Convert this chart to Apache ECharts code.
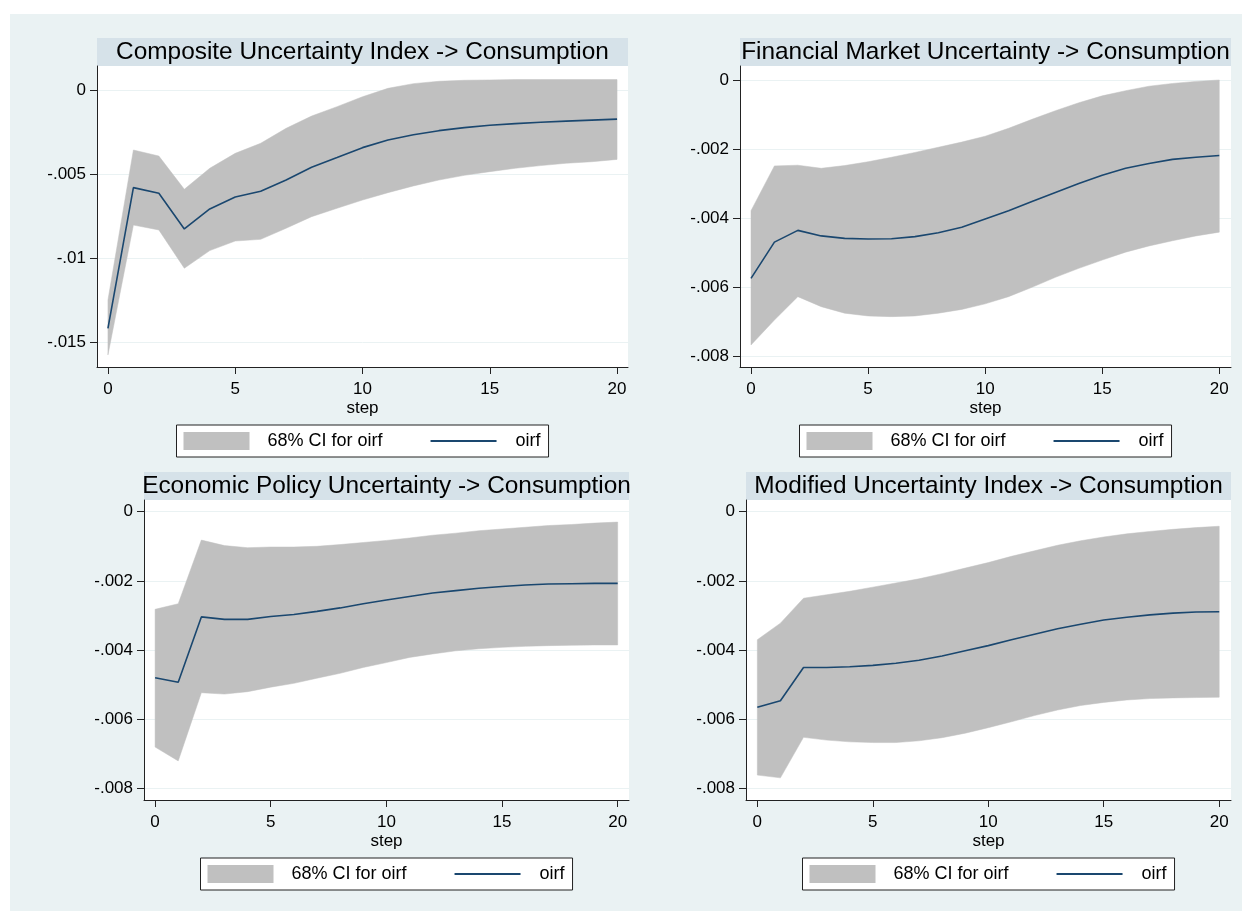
<!DOCTYPE html>
<html>
<head>
<meta charset="utf-8">
<script src="https://cdn.jsdelivr.net/npm/echarts@6/dist/echarts.min.js"></script>
<style>
  html, body { margin: 0; padding: 0; background: #ffffff; }
  #frame { position: absolute; left: 10px; top: 14px; width: 1232px; height: 897px; background: #eaf2f3; }
  #chart { position: absolute; left: 0; top: 0; width: 1242px; height: 911px; }
</style>
</head>
<body>
<div id="frame"></div>
<div id="chart"></div>
<script>
// Forecast horizon (steps) shared by all four impulse responses
const steps = [0, 1, 2, 3, 4, 5, 6, 7, 8, 9, 10, 11, 12, 13, 14, 15, 16, 17, 18, 19, 20];
const xTicks = [0, 5, 10, 15, 20];

// Composite Uncertainty Index -> Consumption
const compositeOirf  = [-0.01419, -0.00581, -0.00615, -0.00827, -0.00708, -0.00637, -0.00603, -0.00536, -0.00460, -0.00402, -0.00343, -0.00298, -0.00266, -0.00242, -0.00224, -0.00210, -0.00200, -0.00192, -0.00185, -0.00179, -0.00173];
const compositeUpper = [-0.01250, -0.00357, -0.00393, -0.00591, -0.00466, -0.00377, -0.00317, -0.00228, -0.00155, -0.00099, -0.00040, 0.00010, 0.00038, 0.00052, 0.00058, 0.00060, 0.00062, 0.00062, 0.00062, 0.00062, 0.00062];
const compositeLower = [-0.01577, -0.00804, -0.00833, -0.01061, -0.00956, -0.00899, -0.00889, -0.00823, -0.00754, -0.00704, -0.00655, -0.00611, -0.00571, -0.00536, -0.00508, -0.00486, -0.00466, -0.00450, -0.00436, -0.00427, -0.00413];
const compositeTicks = [0, -0.005, -0.01, -0.015];
const compositeTickLabels = ['0', '-.005', '-.01', '-.015'];

// Financial Market Uncertainty -> Consumption
const financialOirf  = [-0.00575, -0.00470, -0.00436, -0.00452, -0.00459, -0.00461, -0.00460, -0.00454, -0.00443, -0.00427, -0.00403, -0.00379, -0.00352, -0.00326, -0.00300, -0.00276, -0.00256, -0.00242, -0.00230, -0.00224, -0.00219];
const financialUpper = [-0.00379, -0.00249, -0.00247, -0.00256, -0.00248, -0.00237, -0.00224, -0.00210, -0.00195, -0.00180, -0.00163, -0.00140, -0.00114, -0.00089, -0.00066, -0.00046, -0.00031, -0.00018, -0.00010, -0.00004, 0.00000];
const financialLower = [-0.00768, -0.00696, -0.00628, -0.00657, -0.00676, -0.00684, -0.00686, -0.00684, -0.00676, -0.00665, -0.00649, -0.00628, -0.00601, -0.00572, -0.00546, -0.00522, -0.00499, -0.00481, -0.00466, -0.00452, -0.00441];

// Economic Policy Uncertainty -> Consumption
const policyOirf  = [-0.00480, -0.00493, -0.00304, -0.00311, -0.00311, -0.00303, -0.00297, -0.00288, -0.00278, -0.00266, -0.00255, -0.00245, -0.00235, -0.00228, -0.00221, -0.00216, -0.00212, -0.00209, -0.00208, -0.00207, -0.00207];
const policyUpper = [-0.00282, -0.00266, -0.00082, -0.00098, -0.00104, -0.00102, -0.00102, -0.00100, -0.00095, -0.00089, -0.00083, -0.00076, -0.00068, -0.00062, -0.00055, -0.00050, -0.00045, -0.00040, -0.00037, -0.00033, -0.00030];
const policyLower = [-0.00680, -0.00720, -0.00523, -0.00527, -0.00520, -0.00507, -0.00496, -0.00481, -0.00467, -0.00450, -0.00436, -0.00421, -0.00411, -0.00402, -0.00396, -0.00392, -0.00389, -0.00387, -0.00386, -0.00385, -0.00385];

// Modified Uncertainty Index -> Consumption
const modifiedOirf  = [-0.00565, -0.00546, -0.00450, -0.00450, -0.00448, -0.00444, -0.00438, -0.00429, -0.00417, -0.00402, -0.00387, -0.00370, -0.00354, -0.00338, -0.00325, -0.00313, -0.00305, -0.00298, -0.00293, -0.00290, -0.00289];
const modifiedUpper = [-0.00370, -0.00322, -0.00250, -0.00240, -0.00230, -0.00218, -0.00206, -0.00194, -0.00179, -0.00163, -0.00147, -0.00129, -0.00113, -0.00097, -0.00084, -0.00073, -0.00064, -0.00057, -0.00051, -0.00046, -0.00042];
const modifiedLower = [-0.00761, -0.00769, -0.00652, -0.00660, -0.00665, -0.00667, -0.00667, -0.00662, -0.00653, -0.00640, -0.00624, -0.00607, -0.00589, -0.00573, -0.00560, -0.00551, -0.00544, -0.00540, -0.00538, -0.00537, -0.00536];

// Small-scale y ticks used by the last three panels
const smallTicks = [0, -0.002, -0.004, -0.006, -0.008];
const smallTickLabels = ['0', '-.002', '-.004', '-.006', '-.008'];

const CI_NAME = '68% CI for oirf';
const LINE_NAME = 'oirf';
const FONT = "'Liberation Sans', Arial, Helvetica, sans-serif";
const NAVY = '#1a476f';
const BAND = '#c0c0c0';
const AXIS = '#222222';

const panels = [
  { title: 'Composite Uncertainty Index -> Consumption', oirf: compositeOirf, hi: compositeUpper, lo: compositeLower,
    ticks: compositeTicks, labels: compositeTickLabels,
    box: { left: 97, top: 66, width: 531, height: 301 }, yRange: [-0.01649, 0.00143], xRange: [-0.43, 20.43] },
  { title: 'Financial Market Uncertainty -> Consumption', oirf: financialOirf, hi: financialUpper, lo: financialLower,
    ticks: smallTicks, labels: smallTickLabels,
    box: { left: 740, top: 66, width: 491, height: 301 }, yRange: [-0.00832, 0.000406], xRange: [-0.47, 20.5] },
  { title: 'Economic Policy Uncertainty -> Consumption', oirf: policyOirf, hi: policyUpper, lo: policyLower,
    ticks: smallTicks, labels: smallTickLabels,
    box: { left: 144, top: 500, width: 485, height: 300 }, yRange: [-0.00833, 0.000338], xRange: [-0.48, 20.49] },
  { title: 'Modified Uncertainty Index -> Consumption', oirf: modifiedOirf, hi: modifiedUpper, lo: modifiedLower,
    ticks: smallTicks, labels: smallTickLabels,
    box: { left: 746, top: 500, width: 485, height: 300 }, yRange: [-0.00833, 0.000338], xRange: [-0.49, 20.51] }
];

// Shaded band between lower and upper bounds, drawn as one polygon in axis coordinates
function bandRenderer(p) {
  return function (params, api) {
    if (params.dataIndex !== 0) return null;
    const top = steps.map((s, k) => api.coord([s, p.hi[k]]));
    const bottom = steps.map((s, k) => api.coord([s, p.lo[k]])).reverse();
    return {
      type: 'polygon',
      shape: { points: top.concat(bottom) },
      style: { fill: BAND, stroke: BAND, lineWidth: 0.5 }
    };
  };
}

const grids = [], xAxes = [], yAxes = [], series = [], legends = [], graphics = [];

panels.forEach((p, i) => {
  const b = p.box;
  grids.push({
    left: b.left, top: b.top, width: b.width, height: b.height,
    show: true, backgroundColor: '#ffffff', borderWidth: 0
  });

  xAxes.push({
    gridIndex: i, type: 'value', min: p.xRange[0], max: p.xRange[1],
    axisLine: { show: true, onZero: false, lineStyle: { color: AXIS, width: 1 } },
    axisTick: { show: true, length: 7, customValues: xTicks, lineStyle: { color: AXIS } },
    axisLabel: { customValues: xTicks, fontSize: 17, margin: 14, color: '#000', fontFamily: FONT },
    splitLine: { show: false },
    name: 'step', nameLocation: 'middle', nameGap: 33,
    nameTextStyle: { fontSize: 17, color: '#000', fontFamily: FONT }
  });

  yAxes.push({
    gridIndex: i, type: 'value', min: p.yRange[0], max: p.yRange[1],
    axisLine: { show: true, onZero: false, lineStyle: { color: AXIS, width: 1 } },
    axisTick: { show: true, length: 7, customValues: p.ticks, lineStyle: { color: AXIS } },
    axisLabel: {
      customValues: p.ticks, fontSize: 17, margin: 11, color: '#000', fontFamily: FONT,
      formatter: v => {
        const k = p.ticks.findIndex(t => Math.abs(t - v) < 1e-9);
        return k >= 0 ? p.labels[k] : '';
      }
    },
    splitLine: { show: true, lineStyle: { color: '#eaf2f3', width: 1 } }
  });

  series.push({
    type: 'custom', name: CI_NAME, xAxisIndex: i, yAxisIndex: i,
    data: steps.map((s, k) => [s, p.lo[k], p.hi[k]]),
    encode: { x: 0, y: [1, 2] },
    renderItem: bandRenderer(p),
    itemStyle: { color: BAND },
    clip: true, silent: true, z: 2
  });
  series.push({
    type: 'line', name: LINE_NAME, xAxisIndex: i, yAxisIndex: i,
    data: steps.map((s, k) => [s, p.oirf[k]]),
    symbol: 'none', lineStyle: { color: NAVY, width: 1.6 },
    itemStyle: { color: NAVY }, z: 3
  });

  // Panel title bar
  graphics.push({
    type: 'rect', silent: true,
    shape: { x: b.left, y: b.top - 28, width: b.width, height: 28 },
    style: { fill: '#d6e2e9' }
  });
  graphics.push({
    type: 'text', silent: true,
    x: b.left + b.width / 2, y: b.top - 13.5,
    style: { text: p.title, fontSize: 24.4, fontFamily: FONT, fill: '#000',
             align: 'center', verticalAlign: 'middle' }
  });

  // Legend box under each panel
  legends.push({
    left: b.left + b.width / 2 - 186,
    top: b.top + b.height + 58,
    orient: 'horizontal',
    padding: [7, 8, 7, 7],
    itemGap: 48, itemWidth: 66, itemHeight: 18,
    symbolKeepAspect: true,
    backgroundColor: '#ffffff', borderColor: AXIS, borderWidth: 1, borderRadius: 0,
    selectedMode: false,
    textStyle: { fontSize: 18, color: '#000', fontFamily: FONT },
    data: [
      { name: CI_NAME, icon: 'rect', itemStyle: { color: BAND, borderWidth: 0 },
        textStyle: { padding: [0, 0, 0, 13] } },
      { name: LINE_NAME, icon: 'path://M0,0H66V2H0Z', itemStyle: { color: NAVY, borderWidth: 0 },
        textStyle: { padding: [0, 0, 0, 14] } }
    ]
  });
});

const chart = echarts.init(document.getElementById('chart'), null, { renderer: 'canvas' });
chart.setOption({
  backgroundColor: 'transparent',
  animation: false,
  grid: grids,
  xAxis: xAxes,
  yAxis: yAxes,
  legend: legends,
  graphic: graphics,
  series: series
});
</script>
</body>
</html>
